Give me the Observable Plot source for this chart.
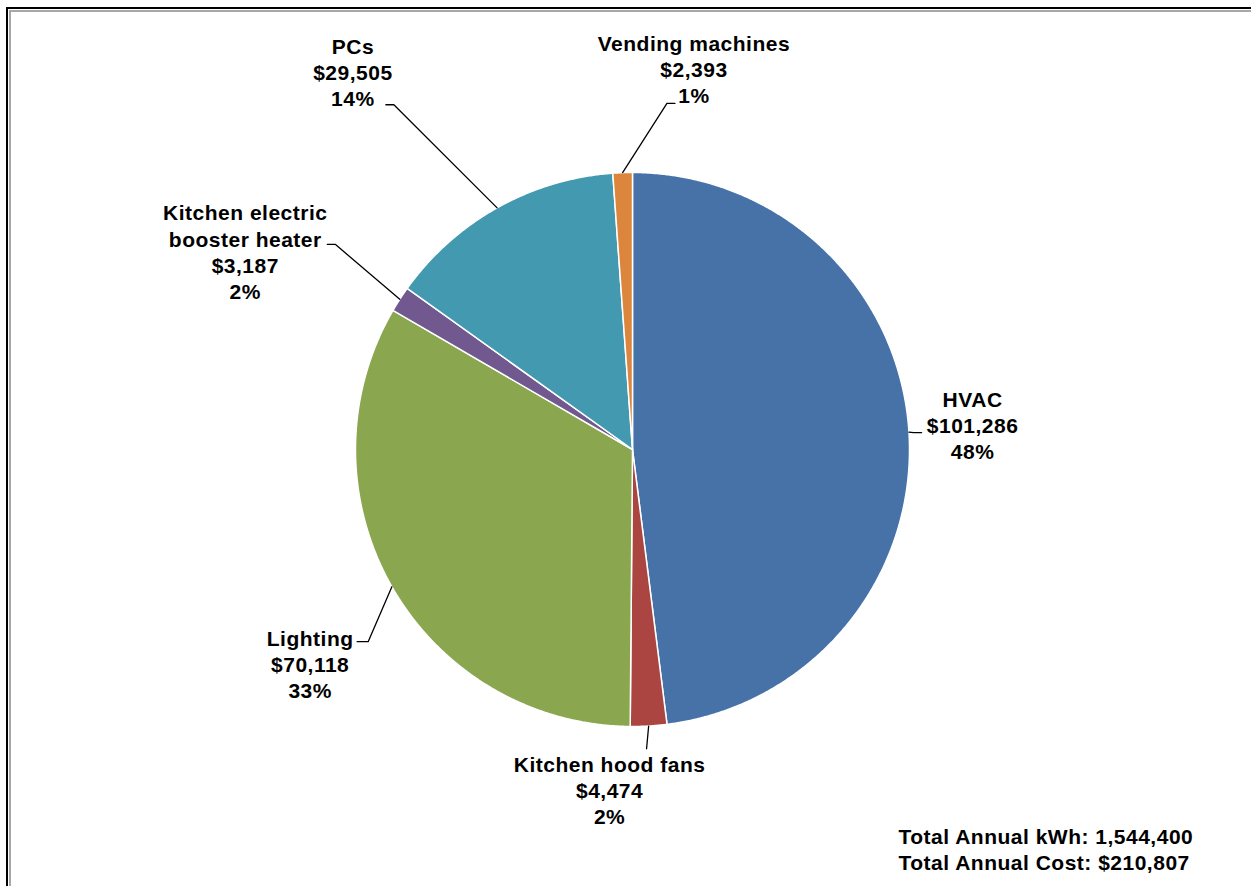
<!DOCTYPE html>
<html>
<head>
<meta charset="utf-8">
<script src="https://cdn.jsdelivr.net/npm/d3@7"></script>
<script src="https://cdn.jsdelivr.net/npm/@observablehq/plot@0.6"></script>
<style>
  html, body { margin: 0; padding: 0; background: #fff; }
  #wrap { position: relative; width: 1251px; height: 886px; overflow: hidden; background: #fff; }
  .frame1 { position: absolute; left: 6px; top: 7px; width: 1400px; height: 1000px; border-left: 2px solid #000; border-top: 2px solid #000; }
  .frame2 { position: absolute; left: 9px; top: 10px; width: 1400px; height: 1000px; border-left: 2px solid #a8a8a8; border-top: 2px solid #a8a8a8; }
  #chart { position: absolute; left: 0; top: 0; }
  #chart text { letter-spacing: 0.5px; }
</style>
</head>
<body>
<div id="wrap">
  <div class="frame1"></div>
  <div class="frame2"></div>
  <div id="chart"></div>
</div>
<script>
// ---- Data ----
const categories = ["HVAC", "Kitchen hood fans", "Lighting", "Kitchen electric booster heater", "PCs", "Vending machines"];
const costs = [101286, 4474, 70118, 3187, 29505, 2393];
const percents = [48, 2, 33, 2, 14, 1];
const colors = ["#4672A8", "#AA4542", "#8AA64F", "#71588F", "#4399AF", "#DB853D"];
const totalKwh = 1544400;
const totalCost = 210807;

// ---- Layout (not data) ----
const W = 1251, H = 886;
const cx = 632, cy = 449, R = 277;
// per label: distance of label centre from pie centre, angular nudge (deg),
// leader attach offset from label centre, horizontal elbow length
const labelLayout = [
  {dist: 341, nudge: -0.6, ax: -51, ay: 8, elbow: 8},
  {dist: 341, nudge: 7.2, ax: 37, ay: -41, elbow: 0},
  {dist: 387, nudge: -3.9, ax: 47, ay: -22, elbow: 11},
  {dist: 435, nudge: -5.75, ax: 82, ay: -7, elbow: 8},
  {dist: 470, nudge: -7.25, ax: 33, ay: 33, elbow: 8},
  {dist: 386, nudge: 11.2, ax: -19, ay: 35, elbow: 8}
];

const fmt = d3.format(",");
const rows = categories.map((name, i) => ({name, cost: costs[i], pct: percents[i], color: colors[i], i}));
const arcs = d3.pie().sort(null).value(d => d.cost).startAngle(0).endAngle(2 * Math.PI)(rows);

const pt = (a, r) => ({x: cx + r * Math.sin(a), y: cy - r * Math.cos(a)});

// slice polygons
const slicePts = arcs.map(a => {
  const n = Math.max(4, Math.ceil((a.endAngle - a.startAngle) / 0.005));
  const pts = [{...pt(0, 0), name: a.data.name}];
  for (let k = 0; k <= n; k++) {
    const ang = a.startAngle + (a.endAngle - a.startAngle) * k / n;
    pts.push({...pt(ang, R), name: a.data.name});
  }
  return pts;
});

// labels and leader lines
const labels = [];
const leaders = [];
arcs.forEach((a, i) => {
  const L = labelLayout[i];
  const mid = (a.startAngle + a.endAngle) / 2;
  const c = pt(mid + L.nudge * Math.PI / 180, L.dist);
  labels.push({x: c.x, y: c.y, text: `${a.data.name}\n$${fmt(a.data.cost)}\n${a.data.pct}%`});
  const edge = pt(mid, R);
  const attach = {x: c.x + L.ax, y: c.y + L.ay};
  const dir = Math.sign(cx - attach.x);
  const elbow = {x: attach.x + dir * L.elbow, y: attach.y};
  leaders.push({...attach, name: a.data.name});
  if (L.elbow > 0) leaders.push({...elbow, name: a.data.name});
  leaders.push({...edge, name: a.data.name});
});

const font = "'Liberation Sans', Arial, Helvetica, sans-serif";

const chart = Plot.plot({
  width: W,
  height: H,
  margin: 0,
  x: {domain: [0, W], range: [0, W], axis: null},
  y: {domain: [0, H], range: [0, H], axis: null},
  style: {background: "transparent", fontFamily: font},
  marks: [
    ...slicePts.map((pts, i) => Plot.line(pts, {
      x: "x", y: "y", curve: "linear-closed",
      fill: colors[i], stroke: "#ffffff", strokeWidth: 1.5, strokeLinejoin: "round"
    })),
    Plot.line(leaders, {x: "x", y: "y", z: "name", stroke: "#000", strokeWidth: 1.3}),
    Plot.text(labels, {
      x: "x", y: "y", text: "text",
      fontSize: 21, fontWeight: "bold", fontFamily: font, fill: "#000",
      textAnchor: "middle", lineAnchor: "middle", lineHeight: 1.25, lineWidth: 9.5
    }),
    Plot.text([`Total Annual kWh: ${fmt(totalKwh)}\nTotal Annual Cost: $${fmt(totalCost)}`], {
      frameAnchor: "bottom-left", dx: 898, dy: -38,
      fontSize: 21, fontWeight: "bold", fontFamily: font, fill: "#000",
      textAnchor: "start", lineAnchor: "middle", lineHeight: 1.25
    })
  ]
});
document.getElementById("chart").appendChild(chart);
</script>
</body>
</html>
